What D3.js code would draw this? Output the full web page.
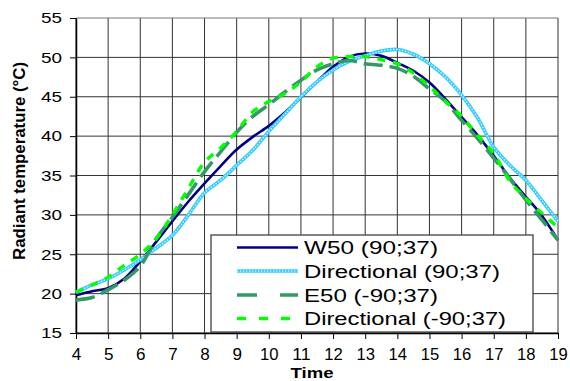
<!DOCTYPE html>
<html><head><meta charset="utf-8">
<script src="https://cdn.jsdelivr.net/npm/d3@7/dist/d3.min.js"></script>
<style>html,body{margin:0;padding:0;background:#fff;}svg{display:block;}text{font-family:"Liberation Sans",Arial,sans-serif;}</style>
</head><body><svg id="c" width="570" height="381"></svg>
<script>
const hours = [4,4.5,5,5.5,6,6.5,7,7.5,8,8.5,9,9.5,10,10.5,11,11.5,12,12.5,13,13.5,14,14.5,15,15.5,16,16.5,17,17.5,18,18.5,19];
const w50  = [19.8,20.3,20.7,21.9,24.1,26.6,29.2,31.7,34.0,36.2,38.3,39.9,41.3,43.0,44.9,46.9,48.8,50.1,50.5,50.2,49.3,48.3,46.8,44.7,42.4,40.1,37.5,34.7,32.3,29.9,26.8];
const dir90 = [20.2,21.1,21.9,23.0,24.3,25.8,27.4,30.0,32.8,34.4,36.3,38.2,40.6,42.8,45.0,46.9,48.4,49.5,50.2,50.8,51.0,50.4,49.2,47.5,45.2,42.3,38.6,36.3,34.4,31.8,29.2];
const e50  = [19.2,19.5,20.5,21.7,23.5,27.0,29.7,32.6,35.5,38.0,40.5,42.5,44.0,45.6,47.1,48.4,49.2,49.6,49.2,49.0,48.6,47.6,46.0,44.4,42.0,39.7,37.2,34.6,31.9,29.35,26.8];
const dirm90 = [20.1,21.1,22.1,23.6,25.0,27.0,30.0,33.4,36.7,38.5,40.6,43.1,44.4,45.4,46.9,48.8,49.9,50.1,50.1,49.7,49.2,48.0,46.3,44.4,42.5,40.1,37.8,34.3,32.1,30.2,28.4];
const seriesNames = ["W50 (90;37)","Directional (90;37)","E50 (-90;37)","Directional (-90;37)"];
const xTicks = [4,5,6,7,8,9,10,11,12,13,14,15,16,17,18,19];
const yTicks = [15,20,25,30,35,40,45,50,55];

const svg = d3.select("#c");
const L=76,R=558,T=18,B=333;
const x = d3.scaleLinear().domain([4,19]).range([L,R]);
const y = d3.scaleLinear().domain([15,55]).range([B,T]);

// grid
const g = svg.append("g");
g.selectAll(".vg").data(xTicks).enter().append("line")
 .attr("x1",d=>x(d)).attr("x2",d=>x(d)).attr("y1",T).attr("y2",B)
 .attr("stroke","#333").attr("stroke-width",1);
g.selectAll(".hg").data(yTicks).enter().append("line")
 .attr("x1",L).attr("x2",R).attr("y1",d=>y(d)).attr("y2",d=>y(d))
 .attr("stroke",d=>d===55?"#777":"#333").attr("stroke-width",1);

// axes
const ya = svg.append("g").attr("transform",`translate(${L},0)`)
 .call(d3.axisLeft(y).tickValues(yTicks).tickSize(6).tickPadding(8).tickSizeOuter(0));
ya.select(".domain").attr("stroke","#000").attr("stroke-width",1.5);
ya.selectAll(".tick line").attr("stroke","#000");
ya.selectAll("text").attr("font-size",15).attr("fill","#000")
 .attr("textLength",21).attr("lengthAdjust","spacingAndGlyphs")
 .style("font-family","'Liberation Sans',Arial,sans-serif");

const xa = svg.append("g").attr("transform",`translate(0,${B})`)
 .call(d3.axisBottom(x).tickValues(xTicks).tickSize(6).tickPadding(10).tickSizeOuter(0));
xa.select(".domain").attr("stroke","#000").attr("stroke-width",1.5);
xa.selectAll(".tick line").attr("stroke","#000");
xa.selectAll("text").attr("font-size",16).attr("fill","#000")
 .attr("textLength",d=>d>=10?18.5:9.5).attr("lengthAdjust","spacingAndGlyphs")
 .style("font-family","'Liberation Sans',Arial,sans-serif");

// lines
const line = d3.line().x((d,i)=>x(hours[i])).y(d=>y(d)).curve(d3.curveCatmullRom.alpha(0.5));
const plot = svg.append("g");
plot.append("path").attr("d",line(w50)).attr("fill","none").attr("stroke","#000080").attr("stroke-width",2.6);
plot.append("path").attr("d",line(dir90)).attr("fill","none").attr("stroke","#33ccff").attr("stroke-width",3.6);
plot.append("path").attr("d",line(dir90)).attr("fill","none").attr("stroke","#fff").attr("stroke-width",1.1).attr("stroke-dasharray","1.4,1.6");
plot.append("path").attr("d",line(e50)).attr("fill","none").attr("stroke","#339966").attr("stroke-width",3.6).attr("stroke-dasharray","19,7");
plot.append("path").attr("d",line(dirm90)).attr("fill","none").attr("stroke","#00ff00").attr("stroke-width",3.4).attr("stroke-dasharray","8,8");

// legend
const lg = svg.append("g");
lg.append("rect").attr("x",211).attr("y",235).attr("width",322).attr("height",97)
 .attr("fill","#fff").attr("stroke","#333").attr("stroke-width",1.2);
const rowsY = [247.5,271,295,318.5];
const textLens = [134,196,134,202];
const styles = [
 {c:"#000080",w:2.6,da:null},
 {c:"#33ccff",w:3.6,da:null,dots:true},
 {c:"#339966",w:3.6,da:"20,23"},
 {c:"#00ff00",w:3.4,da:"9,13"}
];
seriesNames.forEach((n,i)=>{
  const s=styles[i];
  const ln = lg.append("line").attr("x1",237).attr("x2",298).attr("y1",rowsY[i]).attr("y2",rowsY[i])
   .attr("stroke",s.c).attr("stroke-width",s.w);
  if(s.da) ln.attr("stroke-dasharray",s.da);
  if(s.dots) lg.append("line").attr("x1",237).attr("x2",298).attr("y1",rowsY[i]).attr("y2",rowsY[i])
   .attr("stroke","#fff").attr("stroke-width",1.1).attr("stroke-dasharray","1.4,1.6");
  lg.append("text").attr("x",304).attr("y",rowsY[i]+6.6).attr("font-size",18).attr("fill","#000")
   .attr("textLength",textLens[i]).attr("lengthAdjust","spacingAndGlyphs").text(n);
});

// titles
svg.append("text").attr("x",312).attr("y",378).attr("text-anchor","middle")
 .attr("font-size",14).attr("font-weight","bold").attr("textLength",43).attr("lengthAdjust","spacingAndGlyphs").text("Time");
svg.append("text").attr("transform","translate(25,161) rotate(-90)").attr("text-anchor","middle")
 .attr("font-size",17).attr("font-weight","bold").attr("textLength",198).attr("lengthAdjust","spacingAndGlyphs")
 .text("Radiant temperature (°C)");
</script></body></html>
